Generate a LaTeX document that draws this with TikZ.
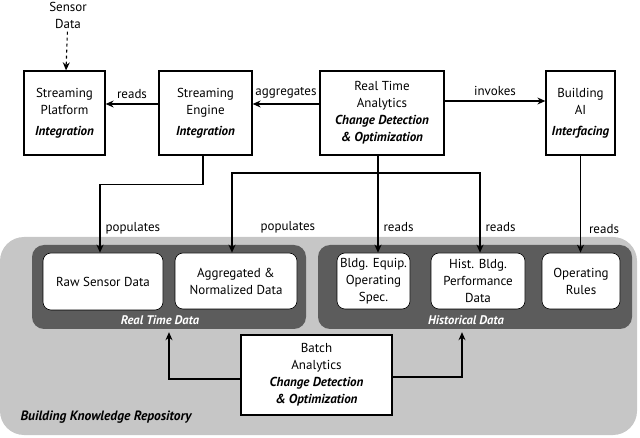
\documentclass[tikz,border=0pt]{standalone}
\usepackage{fontspec}
\setmainfont{PT Sans}
\usetikzlibrary{calc,arrows.meta,positioning}
\definecolor{repoGray}{RGB}{198,198,198}
\definecolor{panelGray}{RGB}{92,92,92}
\newcommand{\subtitle}[1]{\textbf{\textit{#1}}}

\begin{document}
\begin{tikzpicture}[x=1pt, y=-1pt, every node/.style={font=\fontsize{13}{17}\selectfont}]
\tikzset{
  procbox/.style={draw=black, line width=1.3pt, fill=white, align=center, inner sep=2pt},
  storebox/.style={draw=black, line width=0.6pt, fill=white, rounded corners=8pt, align=center, inner sep=2pt},
  panel/.style={fill=panelGray, rounded corners=12pt, inner sep=0pt},
  conn/.style={-{Stealth[length=8pt,width=7pt]}, line width=1.1pt},
  lbl/.style={font=\fontsize{13}{15}\selectfont, inner sep=2pt}
}
\useasboundingbox (0,0) rectangle (640,438);

% repository background
\node[fill=repoGray, rounded corners=24pt, minimum width=637pt, minimum height=198pt, inner sep=0pt] (repo) at (318.5,336) {};
\node[font=\fontsize{13.5}{15}\selectfont\bfseries\itshape, anchor=west] (repolbl) at (17,417) {Building Knowledge Repository};

% data panels
\node[panel, minimum width=274pt, minimum height=84pt] (rtpanel) at (169,287) {};
\node[panel, minimum width=314pt, minimum height=84pt] (histpanel) at (475,287) {};
\node[font=\fontsize{12.5}{14}\selectfont\bfseries\itshape, text=white] (rtlbl) at (160,320) {Real Time Data};
\node[font=\fontsize{12.5}{14}\selectfont\bfseries\itshape, text=white] (histlbl) at (466,320) {Historical Data};

\node[storebox, minimum width=120pt, minimum height=57pt] (raw) at (103,281.5) {Raw Sensor Data};
\node[storebox, minimum width=122pt, minimum height=56pt] (agg) at (236,281) {Aggregated \&\\Normalized Data};
\node[storebox, minimum width=73pt, minimum height=56pt] (equip) at (373.5,281) {Bldg. Equip.\\Operating\\Spec.};
\node[storebox, minimum width=94pt, minimum height=56pt] (hist) at (478,281) {Hist. Bldg.\\Performance\\Data};
\node[storebox, minimum width=78pt, minimum height=56pt] (rules) at (581,281) {Operating\\Rules};

% processing boxes
\node[align=center] (sensor) at (68,15) {Sensor\\Data};
\node[procbox, minimum width=81pt, minimum height=84pt] (platform) at (64.5,113) {Streaming\\Platform\\[4pt]\subtitle{Integration}};
\node[procbox, minimum width=93pt, minimum height=84pt] (engine) at (205.5,113) {Streaming\\Engine\\[4pt]\subtitle{Integration}};
\node[procbox, minimum width=124pt, minimum height=84pt] (rta) at (382,113) {Real Time\\Analytics\\\subtitle{Change Detection}\\\subtitle{\& Optimization}};
\node[procbox, minimum width=69pt, minimum height=84pt] (bai) at (580.5,113) {Building\\AI\\[4pt]\subtitle{Interfacing}};
\node[procbox, minimum width=151pt, minimum height=80pt] (batch) at (316.5,375) {Batch\\Analytics\\\subtitle{Change Detection}\\\subtitle{\& Optimization}};

\coordinate (split) at (378,173);

% connectors
\draw[conn, dashed] (sensor) -- (platform);
\draw[conn] ([yshift=9pt]engine.west) -- node[lbl, above=3pt] {reads} ([yshift=9pt]platform.east);
\draw[conn] ([yshift=9pt]rta.west) -- node[lbl, above=3pt] {aggregates} ([yshift=9pt]engine.east);
\draw[conn] ([yshift=12pt]rta.east) -- node[lbl, above=3pt] {invokes} ([yshift=12pt]bai.west);
\draw[conn] ([xshift=-2.5pt]engine.south) -- ++(0,29) -| node[lbl, pos=0.82, right=3pt] {populates} ([xshift=-3pt]raw.north);
\draw[conn] (rta.south -| split) -- node[lbl, pos=0.74, right=3pt] {reads} (split |- equip.north);
\draw[conn] (split) -| node[lbl, pos=0.84, right=26pt] {populates} ([xshift=-4pt]agg.north);
\draw[conn] (split) -| node[lbl, pos=0.84, right=3pt] {reads} ([xshift=2pt]hist.north);
\draw[conn] (bai.south) -- node[lbl, pos=0.76, right=6pt] {reads} (bai.south |- rules.north);
\draw[conn] ([yshift=-4pt]batch.west) -| ([yshift=-3pt]rtpanel.south);
\draw[conn] ([yshift=-2pt]batch.east) -| ($(histpanel.south)+(-13,3)$);
\end{tikzpicture}
\end{document}
